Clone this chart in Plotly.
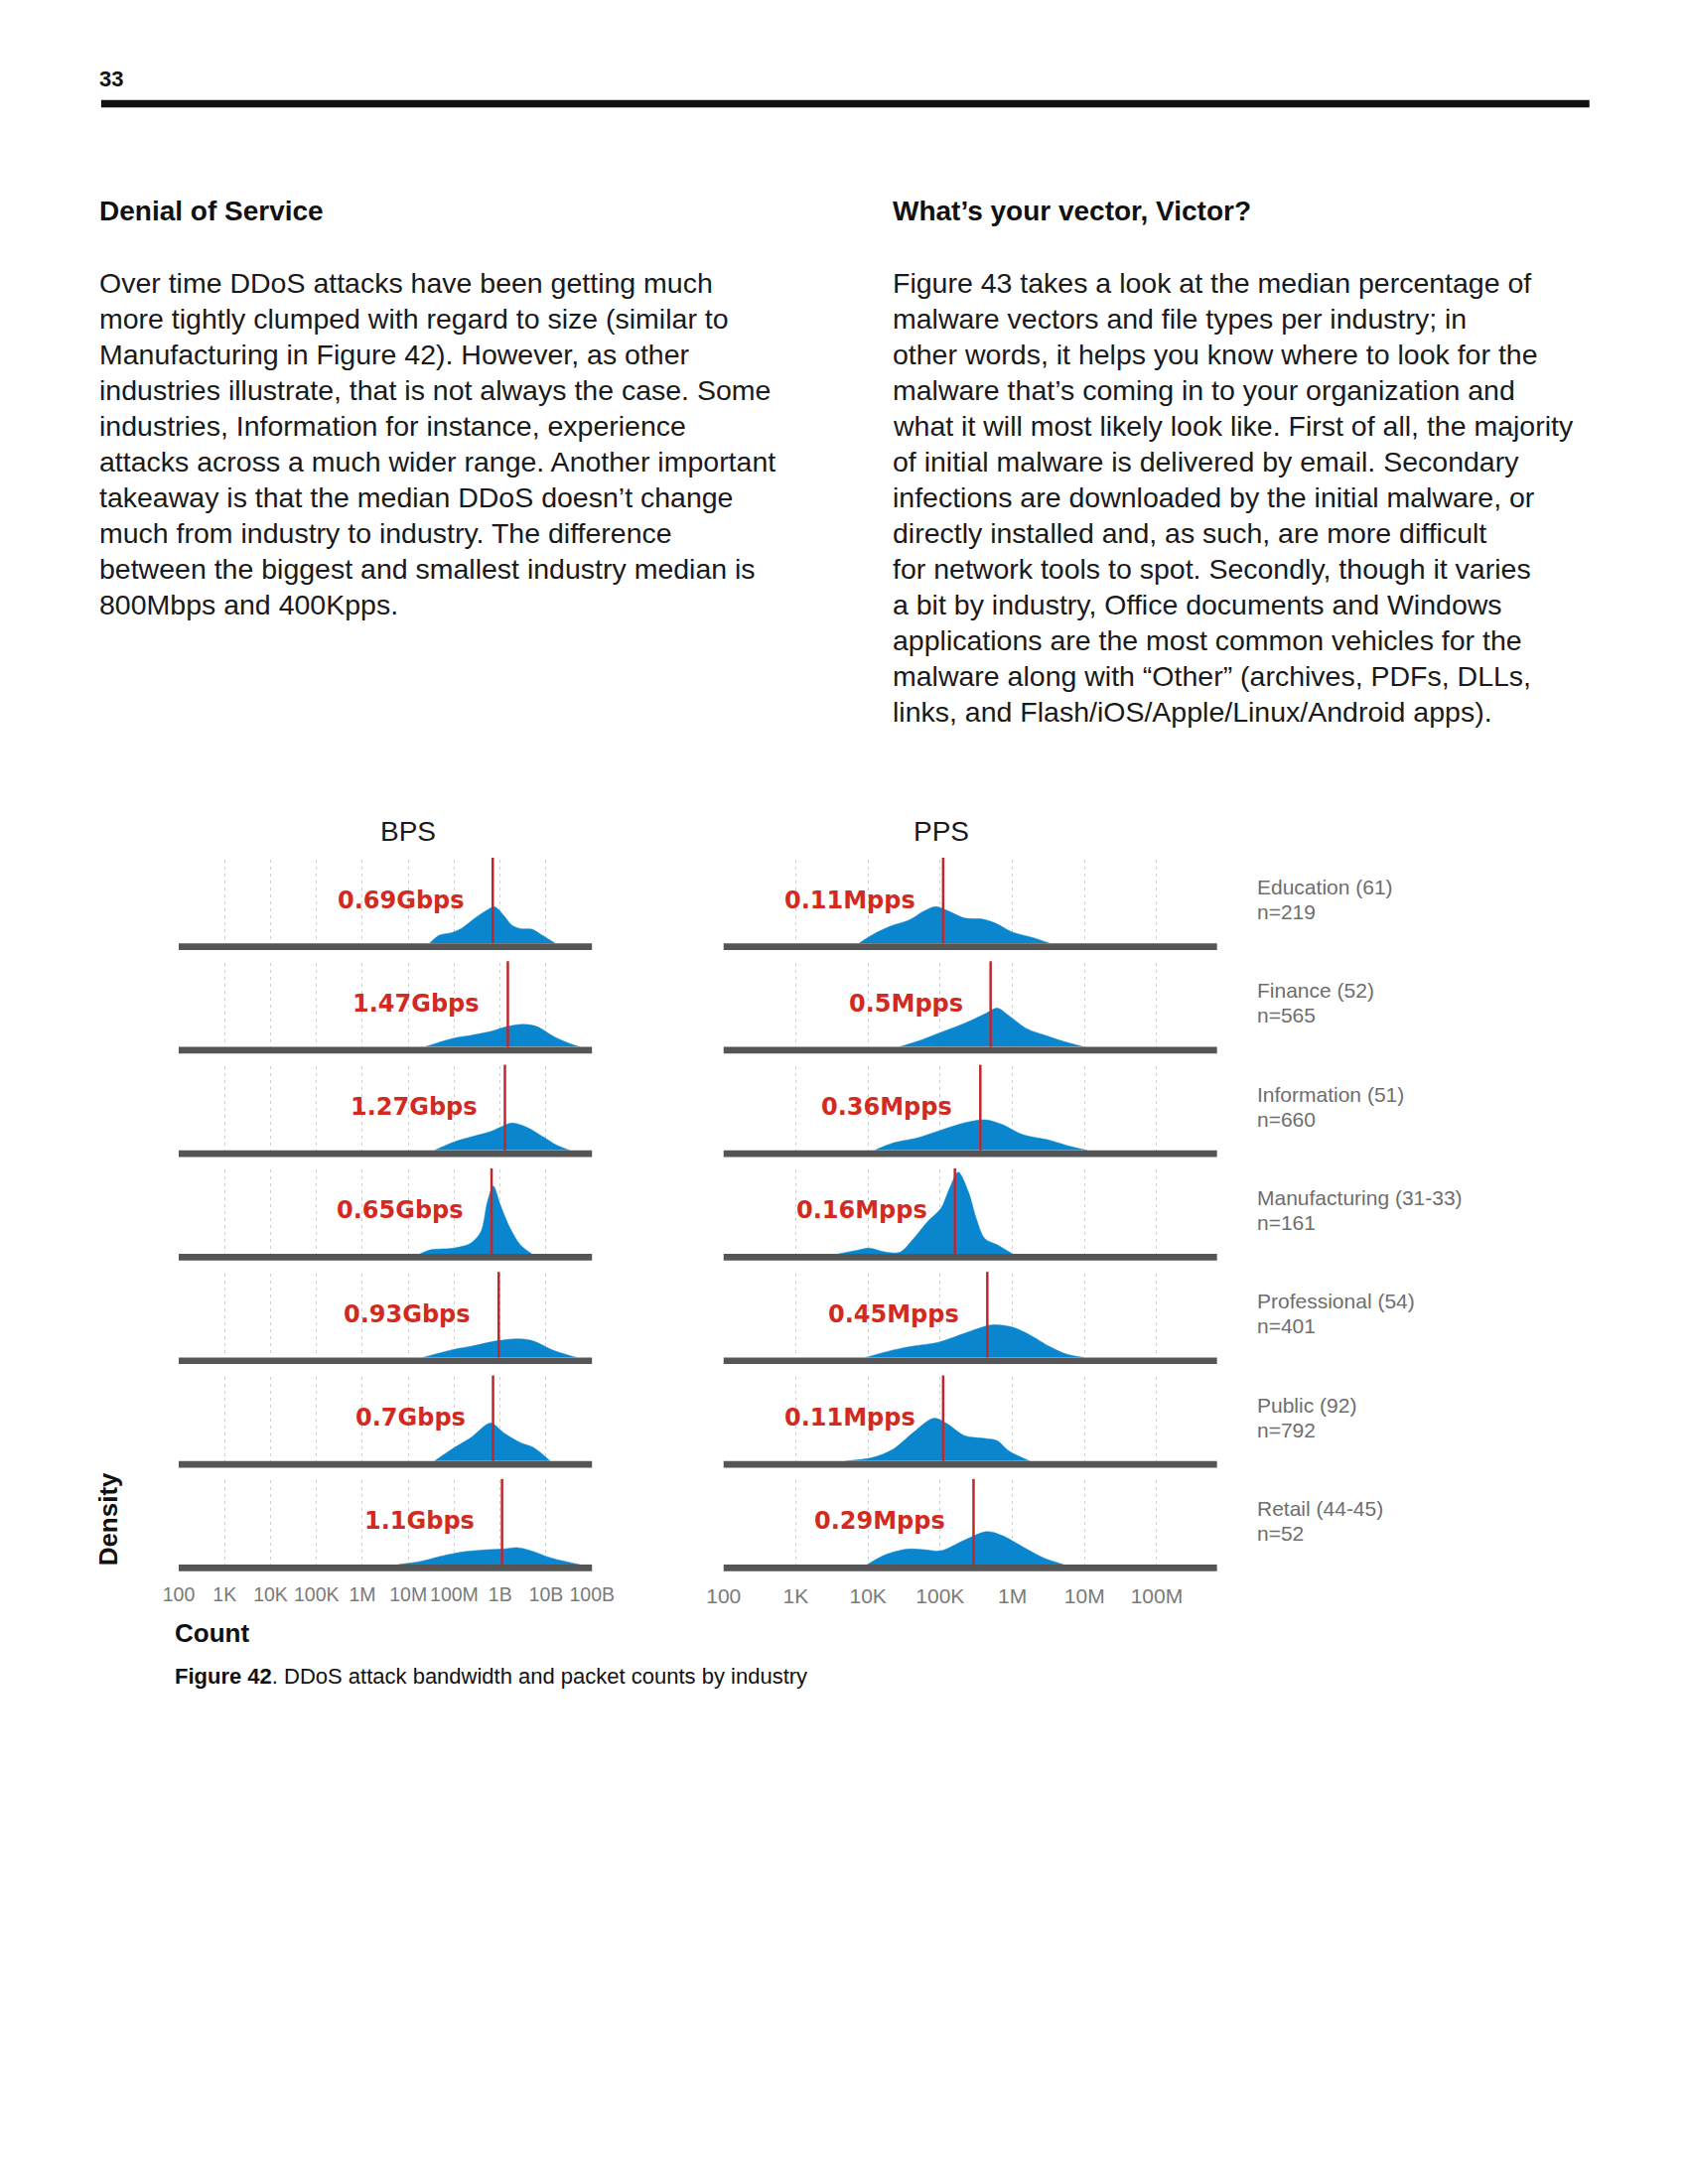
import numpy as np
import plotly.graph_objects as go

# The page is laid out in reference-image pixel coordinates.  The viewer places
# the plot with a small left offset and a slight horizontal scale, so positions
# are mapped through SX/OXI (horizontal) and OY (vertical) below.
W, H = 1700, 2200
SX, OXI, OY = 0.9786, 23.9, 8

# ---------------- data ----------------
industries = ["Education (61)", "Finance (52)", "Information (51)", "Manufacturing (31-33)",
              "Professional (54)", "Public (92)", "Retail (44-45)"]
n_counts = ["n=219", "n=565", "n=660", "n=161", "n=401", "n=792", "n=52"]

bps_median_gbps = [0.69, 1.47, 1.27, 0.65, 0.93, 0.7, 1.1]
pps_median_mpps = [0.11, 0.5, 0.36, 0.16, 0.45, 0.11, 0.29]

bps_tick_vals = [1e2, 1e3, 1e4, 1e5, 1e6, 1e7, 1e8, 1e9, 1e10, 1e11]
bps_tick_text = ["100", "1K", "10K", "100K", "1M", "10M", "100M", "1B", "10B", "100B"]
pps_tick_vals = [1e2, 1e3, 1e4, 1e5, 1e6, 1e7, 1e8]
pps_tick_text = ["100", "1K", "10K", "100K", "1M", "10M", "100M"]

# density estimates: x = log10(count), y = relative density
bps_edu_log = [7.46, 7.68, 7.93, 8.15, 8.43, 8.69, 8.88, 9.08, 9.26, 9.44, 9.69, 9.91, 10.2]
bps_edu_den = [0, .083, .107, .15, .25, .333, .373, .283, .183, .15, .143, .083, 0]
bps_fin_log = [7.36, 8.0, 8.36, 8.79, 9.15, 9.51, 9.8, 10.16, 10.52, 10.73]
bps_fin_den = [0, .09, .117, .157, .207, .23, .207, .107, .033, 0]
bps_inf_log = [7.57, 8.0, 8.36, 8.79, 9.08, 9.26, 9.58, 9.94, 10.23, 10.52]
bps_inf_den = [0, .087, .137, .193, .253, .28, .237, .137, .053, 0]
bps_man_log = [7.25, 7.5, 8.0, 8.36, 8.58, 8.72, 8.85, 9.01, 9.22, 9.44, 9.69]
bps_man_den = [0, .043, .06, .11, .227, .527, .693, .493, .26, .093, 0]
bps_pro_log = [7.32, 8.0, 8.36, 8.97, 9.44, 9.73, 10.16, 10.66]
bps_pro_den = [0, .083, .113, .173, .19, .167, .073, 0]
bps_pub_log = [7.57, 8.0, 8.36, 8.79, 9.08, 9.44, 9.73, 10.09]
bps_pub_den = [0, .137, .237, .387, .287, .187, .137, 0]
bps_ret_log = [6.78, 7.28, 7.64, 8.15, 8.65, 9.08, 9.37, 9.66, 10.16, 10.73]
bps_ret_den = [0, .033, .077, .127, .15, .16, .173, .143, .06, 0]

pps_edu_log = [3.875, 4.06, 4.30, 4.58, 4.77, 4.94, 5.10, 5.34, 5.58, 5.76, 6.0, 6.28, 6.52]
pps_edu_den = [0, .086, .172, .241, .327, .375, .334, .258, .248, .207, .114, .059, 0]
pps_fin_log = [4.44, 4.68, 5.01, 5.34, 5.62, 5.79, 5.95, 6.19, 6.47, 6.71, 6.99]
pps_fin_den = [0, .055, .148, .241, .337, .396, .32, .189, .114, .055, 0]
pps_inf_log = [4.09, 4.35, 4.68, 5.01, 5.34, 5.62, 5.86, 6.14, 6.52, 6.80, 7.04]
pps_inf_den = [0, .076, .127, .207, .282, .313, .265, .162, .103, .041, 0]
pps_man_log = [3.59, 3.83, 4.02, 4.21, 4.44, 4.63, 4.82, 5.01, 5.13, 5.25, 5.39, 5.50, 5.62, 5.81, 6.0]
pps_man_den = [0, .034, .059, .024, .017, .155, .327, .465, .671, .837, .637, .362, .155, .086, 0]
pps_pro_log = [3.97, 4.35, 4.63, 4.96, 5.34, 5.65, 5.76, 6.0, 6.24, 6.52, 6.76, 6.99]
pps_pro_den = [0, .076, .117, .152, .248, .324, .334, .31, .231, .11, .031, 0]
pps_pub_log = [3.69, 4.06, 4.35, 4.63, 4.91, 5.10, 5.34, 5.62, 5.79, 5.95, 6.24]
pps_pub_den = [0, .034, .121, .293, .437, .379, .258, .231, .207, .103, 0]
pps_ret_log = [3.99, 4.25, 4.54, 4.77, 5.01, 5.34, 5.65, 5.86, 6.14, 6.43, 6.71]
pps_ret_den = [0, .103, .158, .152, .141, .251, .337, .296, .183, .069, 0]

bps_curves = [(bps_edu_log, bps_edu_den), (bps_fin_log, bps_fin_den), (bps_inf_log, bps_inf_den),
              (bps_man_log, bps_man_den), (bps_pro_log, bps_pro_den), (bps_pub_log, bps_pub_den),
              (bps_ret_log, bps_ret_den)]
pps_curves = [(pps_edu_log, pps_edu_den), (pps_fin_log, pps_fin_den), (pps_inf_log, pps_inf_den),
              (pps_man_log, pps_man_den), (pps_pro_log, pps_pro_den), (pps_pub_log, pps_pub_den),
              (pps_ret_log, pps_ret_den)]

left_text = [
    "Over time DDoS attacks have been getting much",
    "more tightly clumped with regard to size (similar to",
    "Manufacturing in Figure 42). However, as other",
    "industries illustrate, that is not always the case. Some",
    "industries, Information for instance, experience",
    "attacks across a much wider range. Another important",
    "takeaway is that the median DDoS doesn’t change",
    "much from industry to industry. The difference",
    "between the biggest and smallest industry median is",
    "800Mbps and 400Kpps.",
]
right_text = [
    "Figure 43 takes a look at the median percentage of",
    "malware vectors and file types per industry; in",
    "other words, it helps you know where to look for the",
    "malware that’s coming in to your organization and",
    "what it will most likely look like. First of all, the majority",
    "of initial malware is delivered by email. Secondary",
    "infections are downloaded by the initial malware, or",
    "directly installed and, as such, are more difficult",
    "for network tools to spot. Secondly, though it varies",
    "a bit by industry, Office documents and Windows",
    "applications are the most common vehicles for the",
    "malware along with “Other” (archives, PDFs, DLLs,",
    "links, and Flash/iOS/Apple/Linux/Android apps).",
]

# ---------------- style ----------------
BLUE = "#0A86CE"
RED_TXT = "#D22A20"
RED_LINE = "#C0272D"
BASE = "#555555"
GRID = "#cfcfcf"
FONT = "Liberation Sans"


def px(x):
    return (x - OXI) / SX / W


def py(y):
    return 1 - (y - OY) / H


fig = go.Figure()
layout = dict(width=W, height=H, margin=dict(l=0, r=0, t=0, b=0, pad=0),
              paper_bgcolor="white", plot_bgcolor="rgba(0,0,0,0)", showlegend=False)
shapes = []
annotations = []

panels = [
    dict(xpx=(178.3, 595.7), rng=[2, 11], tv=bps_tick_vals, tt=bps_tick_text,
         curves=bps_curves, med=[v * 1e9 for v in bps_median_gbps],
         lab=[f"{v:g}Gbps" for v in bps_median_gbps], tfs=19.5),
    dict(xpx=(728.6, 1226.9), rng=[2, 8.835], tv=pps_tick_vals, tt=pps_tick_text,
         curves=pps_curves, med=[v * 1e6 for v in pps_median_mpps],
         lab=[f"{v:g}Mpps" for v in pps_median_mpps], tfs=21),
]

Y0, STEP = 953.5, 104.3
for r in range(7):
    yb = Y0 + STEP * r
    for p, pan in enumerate(panels):
        k = r * 2 + p + 1
        xn = "x" if k == 1 else f"x{k}"
        yn = "y" if k == 1 else f"y{k}"
        xa = "xaxis" if k == 1 else f"xaxis{k}"
        ya = "yaxis" if k == 1 else f"yaxis{k}"
        lg, dn = pan["curves"][r]
        fig.add_trace(go.Scatter(
            x=[10 ** v for v in lg], y=dn, xaxis=xn, yaxis=yn,
            mode="lines", fill="tozeroy", fillcolor=BLUE,
            line=dict(color=BLUE, width=0.5, shape="spline", smoothing=0.9),
            hoverinfo="skip"))
        last = (r == 6)
        layout[xa] = dict(
            domain=[px(pan["xpx"][0]), px(pan["xpx"][1])], range=pan["rng"], type="log",
            anchor=yn, tickmode="array", tickvals=pan["tv"], ticktext=pan["tt"],
            showticklabels=last, ticks="outside" if last else "", ticklen=13,
            tickangle=0, tickcolor="rgba(0,0,0,0)",
            tickfont=dict(family=FONT, size=pan["tfs"], color="#7a7a7a"),
            showgrid=True, gridcolor=GRID, gridwidth=1, griddash="3px,4px",
            zeroline=False, showline=False, fixedrange=True)
        layout[ya] = dict(domain=[py(yb - 3.3), py(yb - 88)], range=[0, 0.86],
                          visible=False, anchor=xn, fixedrange=True)
        # baseline bar
        shapes.append(dict(type="rect", xref=f"{xn} domain", x0=0, x1=1, yref="paper",
                           y0=py(yb + 3.4), y1=py(yb - 3.3), fillcolor=BASE,
                           line=dict(width=0)))
        # median line
        m = pan["med"][r]
        shapes.append(dict(type="line", xref=xn, x0=m, x1=m, yref="paper",
                           y0=py(yb - 3.3), y1=py(yb - 89.5),
                           line=dict(color=RED_LINE, width=2.5)))
        annotations.append(dict(x=np.log10(m), xref=xn, y=py(yb - 47), yref="paper",
                                text=f"<b>{pan['lab'][r]}</b>", showarrow=False,
                                xanchor="right", yanchor="middle", xshift=-26,
                                font=dict(family="DejaVu Sans", size=24, color=RED_TXT)))
    # industry labels
    annotations.append(dict(x=px(1265), y=py(yb - 60), xref="paper", yref="paper",
                            text=industries[r], showarrow=False, xanchor="left",
                            yanchor="middle", font=dict(family=FONT, size=21, color="#6e6e6e")))
    annotations.append(dict(x=px(1265), y=py(yb - 35), xref="paper", yref="paper",
                            text=n_counts[r], showarrow=False, xanchor="left",
                            yanchor="middle", font=dict(family=FONT, size=21, color="#6e6e6e")))

# panel titles
for t, xc in (("BPS", 410), ("PPS", 948.6)):
    annotations.append(dict(x=px(xc), y=py(838), xref="paper", yref="paper", text=t,
                            showarrow=False, xanchor="center", yanchor="middle",
                            font=dict(family=FONT, size=28, color="#1a1a1a")))

# axis titles & caption
annotations.append(dict(x=px(107.5), y=py(1530), xref="paper", yref="paper",
                        text="<b>Density</b>", textangle=-90, showarrow=False,
                        xanchor="center", yanchor="middle",
                        font=dict(family=FONT, size=26, color="#111111")))
annotations.append(dict(x=px(172), y=py(1645), xref="paper", yref="paper",
                        text="<b>Count</b>", showarrow=False, xanchor="left", yanchor="middle",
                        font=dict(family=FONT, size=26, color="#111111")))
annotations.append(dict(x=px(172), y=py(1688), xref="paper", yref="paper",
                        text="<b>Figure 42</b>. DDoS attack bandwidth and packet counts by industry",
                        showarrow=False, xanchor="left", yanchor="middle",
                        font=dict(family=FONT, size=22, color="#111111")))

# page header
annotations.append(dict(x=px(96), y=py(80), xref="paper", yref="paper", text="<b>33</b>",
                        showarrow=False, xanchor="left", yanchor="middle",
                        font=dict(family=FONT, size=22, color="#111111")))
shapes.append(dict(type="rect", xref="paper", yref="paper", x0=px(100), x1=px(1603),
                   y0=py(108.3), y1=py(100.7), fillcolor="#111111", line=dict(width=0)))

# headings and body text
annotations.append(dict(x=px(96), y=py(212), xref="paper", yref="paper",
                        text="<b>Denial of Service</b>", showarrow=False, xanchor="left",
                        yanchor="middle", font=dict(family=FONT, size=28, color="#111111")))
annotations.append(dict(x=px(897.5), y=py(212), xref="paper", yref="paper",
                        text="<b>What’s your vector, Victor?</b>", showarrow=False,
                        xanchor="left", yanchor="middle",
                        font=dict(family=FONT, size=28, color="#111111")))
for i, line in enumerate(left_text):
    annotations.append(dict(x=px(96), y=py(285 + 36 * i), xref="paper", yref="paper",
                            text=line, showarrow=False, xanchor="left", yanchor="middle",
                            font=dict(family=FONT, size=28.5, color="#1a1a1a")))
for i, line in enumerate(right_text):
    annotations.append(dict(x=px(897.5), y=py(285 + 36 * i), xref="paper", yref="paper",
                            text=line, showarrow=False, xanchor="left", yanchor="middle",
                            font=dict(family=FONT, size=28.5, color="#1a1a1a")))

layout["shapes"] = shapes
layout["annotations"] = annotations
fig.update_layout(**layout)

fig.write_html("out.html")
